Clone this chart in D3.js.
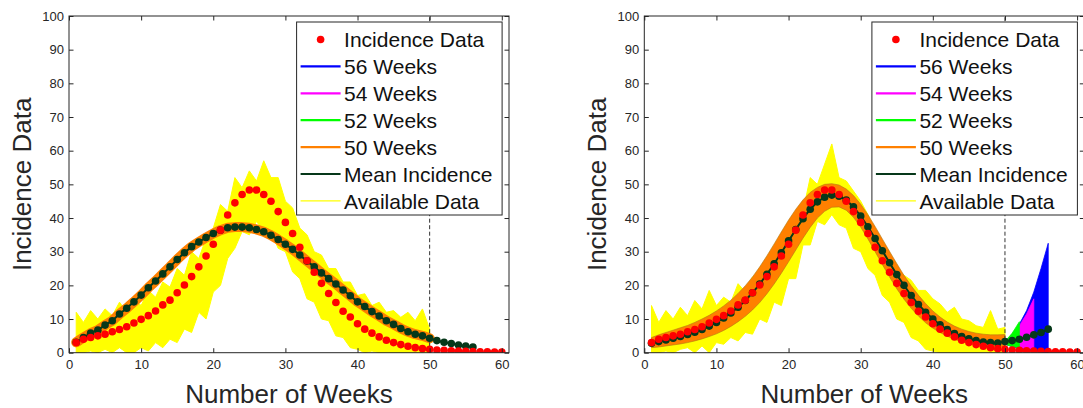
<!DOCTYPE html>
<html>
<head>
<meta charset="utf-8">
<script src="https://cdn.jsdelivr.net/npm/d3@7"></script>
<style>
  body { margin: 0; background: #fff; }
  svg { display: block; font-family: "Liberation Sans", Arial, Helvetica, sans-serif; }
</style>
</head>
<body>
<svg id="chart" width="1083" height="408"></svg>
<script>
// weekly incidence (red dots), weeks 1..60
const weeks = d3.range(1, 61);
const incidence = [3.0, 4.0, 4.5, 5.0, 5.5, 6.2, 6.9, 7.7, 8.8, 9.9, 11.0, 12.4, 14.2, 15.6, 17.8, 20.1, 22.6, 25.5, 28.7, 32.2,
  36.4, 40.9, 44.5, 47.0, 48.3, 48.3, 47.0, 45.0, 41.9, 38.7, 35.4, 31.3, 27.3, 23.9, 20.6, 17.6, 14.9, 12.3, 10.6, 8.6,
  7.0, 5.8, 4.7, 3.7, 3.0, 2.4, 1.9, 1.5, 1.2, 1.0, 0.8, 0.7, 0.6, 0.5, 0.4, 0.35, 0.3, 0.25, 0.2, 0.2];

// mean incidence, weeks 1..56
const meanLeft = [3.1, 4.5, 5.8, 6.7, 8.2, 9.5, 11.5, 13.2, 15.1, 17.1, 19.3, 21.3, 23.4, 25.5, 27.7, 29.7, 31.5, 32.9, 34.2, 35.4,
  36.4, 37.1, 37.3, 37.3, 37.1, 36.6, 35.9, 34.9, 33.6, 32.2, 30.7, 29.0, 27.2, 25.5, 23.7, 22.0, 20.4, 18.6, 16.9, 15.1,
  13.7, 12.2, 10.9, 9.5, 8.4, 7.2, 6.2, 5.5, 5.0, 4.3, 3.6, 3.1, 2.7, 2.3, 2.0, 1.7];
const meanRight = [2.8, 3.3, 3.8, 4.3, 4.8, 5.4, 6.1, 6.9, 7.9, 9.0, 10.3, 11.8, 13.5, 15.5, 17.8, 20.4, 23.3, 26.4, 29.7, 33.2,
  36.6, 39.8, 42.6, 44.8, 46.2, 46.8, 46.5, 45.3, 43.3, 40.6, 37.4, 33.9, 30.3, 26.7, 23.2, 20.0, 17.0, 14.3, 12.0, 10.0,
  8.3, 6.9, 5.7, 4.8, 4.1, 3.6, 3.2, 3.0, 2.9, 3.3, 3.6, 4.0, 4.6, 5.3, 6.0, 7.0];

// envelope of the available data realisations, weeks 1..50
const availHiLeft = [12, 9, 12.5, 10, 13, 11, 15, 12, 16, 14, 18.5, 16.5, 21, 19.5, 25, 23, 30, 28, 34, 37,
  44, 42, 52, 49, 54, 51, 57, 52, 52, 45, 43, 37, 35, 30, 29, 25, 25, 21, 21, 17,
  17.5, 14, 15, 12, 12.5, 10.5, 12, 9.5, 13, 7];
const availLoLeft = [0, 0, 0.5, 0, 1, 0, 1.5, 0, 0, 1.5, 0.5, 3, 1.5, 4, 3, 7, 6, 12, 10, 18,
  20, 28, 31, 36, 35, 39, 36, 36, 31, 30, 24, 22, 16, 15, 10, 9.5, 5, 4.5, 1.5, 1,
  0, 0.5, 0, 0, 0, 0, 0, 0, 0, 0];
const availHiRight = [14, 9, 12.5, 10, 13.5, 11, 15.5, 13, 18.5, 14, 16.5, 15, 20.5, 18, 22.5, 21, 27.5, 26, 33.5, 33,
  41.5, 42, 52, 50, 56, 62, 52, 51, 48, 45, 41, 36.5, 31, 28, 24.5, 23, 21.5, 18.5, 18.5, 16,
  14.5, 12, 13.5, 10, 9.5, 8, 7.5, 12.5, 7, 7.5];
const availLoRight = [0, 0, 0.5, 0, 1, 1.5, 0, 2, 0, 3, 2.5, 4.5, 3.5, 6, 5.5, 10, 9, 15, 14, 22,
  22, 32, 32, 39, 38, 41, 38, 37, 31, 30, 25, 23, 17, 15, 10, 9, 4.5, 3.5, 1, 0.5,
  0, 0, 0, 0, 0, 0, 0, 0, 0, 0];

// 50-week fit band (right panel), weeks 1..50
const bandLoRight = [1.5, 1.7, 2.0, 2.3, 2.6, 3.0, 3.5, 4.1, 4.8, 5.6, 6.6, 7.8, 9.2, 10.8, 12.7, 14.9, 17.5, 20.4, 23.6, 27.0,
  30.5, 34.0, 37.2, 40.0, 42.0, 43.2, 43.3, 42.3, 40.2, 37.3, 33.8, 30.0, 26.2, 22.5, 19.0, 15.9, 13.2, 10.9, 8.9, 7.3,
  6.0, 4.9, 4.0, 3.3, 2.8, 2.4, 2.1, 1.9, 1.8, 1.8];
const bandHiRight = [4.5, 5.3, 6.0, 6.7, 7.4, 8.1, 9.0, 10.0, 11.1, 12.4, 13.9, 15.6, 17.6, 19.9, 22.5, 25.5, 28.8, 32.3, 35.9, 39.4,
  42.6, 45.4, 47.6, 49.1, 50.0, 50.2, 49.8, 48.6, 46.7, 44.1, 41.0, 37.5, 33.8, 30.1, 26.5, 23.0, 19.9, 17.1, 14.6, 12.4,
  10.6, 9.1, 7.9, 7.0, 6.3, 5.8, 5.5, 5.3, 5.3, 5.4];

// forecast fans after the cut-off (right panel)
const fan56Weeks = [50, 51, 52, 53, 54, 55, 56];
const fan56Hi = [3.3, 5.5, 8.5, 12.5, 18, 25, 32.5];
const fan56Lo = [2.5, 1.8, 1.2, 0.8, 0.4, 0.2, 0];
const fan54Weeks = [50, 51, 52, 53, 54];
const fan54Hi = [3.3, 5.4, 8.0, 11.5, 16];
const fan54Lo = [2.5, 2.0, 1.5, 1.2, 1.0];
const fan52Weeks = [50, 51, 52];
const fan52Hi = [3.3, 5.8, 9.2];
const fan52Lo = [2.5, 1.8, 1.5];

const cutoffWeek = 50;
const xTicks = [0, 10, 20, 30, 40, 50, 60];
const yTicks = [0, 10, 20, 30, 40, 50, 60, 70, 80, 90, 100];
const legendLabels = ["Incidence Data", "56 Weeks", "54 Weeks", "52 Weeks", "50 Weeks", "Mean Incidence", "Available Data"];
const legendColors = ["#ff0000", "#0000ff", "#ff00ff", "#00ff00", "#ff8000", "#06381a", "#ffff00"];

const svg = d3.select("#chart");
const axisColor = "#262626";
const plotW = 440, plotTop = 16, plotBottom = 352.7;

const drawPanel = (left, opts) => {
  const g = svg.append("g").attr("transform", `translate(${left},0)`);
  const x = d3.scaleLinear().domain([0, 61]).range([0, plotW]);
  const y = d3.scaleLinear().domain([0, 100]).range([plotBottom, plotTop]);

  const clipId = "clip" + Math.round(left);
  g.append("clipPath").attr("id", clipId)
    .append("rect").attr("x", 0).attr("y", plotTop).attr("width", plotW).attr("height", plotBottom - plotTop);
  const plot = g.append("g").attr("clip-path", `url(#${clipId})`);

  const band = (xs, lo, hi) => d3.area()
    .x((d, i) => x(xs[i])).y0((d, i) => y(lo[i])).y1((d, i) => y(hi[i]))(lo);

  // available data
  plot.append("path")
    .attr("d", band(weeks, opts.availLo, opts.availHi))
    .attr("fill", "#ffff00").attr("stroke", "#ffff00").attr("stroke-width", 1);

  // 50 weeks fit
  if (opts.bandLo) {
    plot.append("path")
      .attr("d", band(weeks, opts.bandLo, opts.bandHi))
      .attr("fill", "#ff8000").attr("stroke", "#b07a10").attr("stroke-width", 0.6);
  } else {
    plot.append("path")
      .datum(opts.mean.slice(0, cutoffWeek))
      .attr("d", d3.line().x((d, i) => x(weeks[i])).y((d) => y(d)))
      .attr("fill", "none").attr("stroke", "#ff8000").attr("stroke-width", 10)
      .attr("stroke-linejoin", "round").attr("stroke-linecap", "round");
  }

  if (opts.fans) {
    opts.fans.forEach((f) => {
      plot.append("path")
        .attr("d", band(f.weeks, f.lo, f.hi))
        .attr("fill", f.color).attr("stroke", f.color).attr("stroke-width", 0.8);
    });
  }

  // cut-off marker
  plot.append("line")
    .attr("x1", x(cutoffWeek)).attr("x2", x(cutoffWeek))
    .attr("y1", y(0)).attr("y2", y(100))
    .attr("stroke", "#333").attr("stroke-width", 1).attr("stroke-dasharray", "4,2.5");

  // mean incidence
  plot.append("path")
    .datum(opts.mean)
    .attr("d", d3.line().x((d, i) => x(weeks[i])).y((d) => y(d)))
    .attr("fill", "none").attr("stroke", "#06381a").attr("stroke-width", 2);
  plot.selectAll(".mean")
    .data(opts.mean)
    .enter()
    .append("circle")
    .attr("cx", (d, i) => x(weeks[i]))
    .attr("cy", (d) => y(d))
    .attr("r", 3.8)
    .attr("fill", "#06381a");

  // incidence data
  plot.selectAll(".inc")
    .data(incidence)
    .enter()
    .append("circle")
    .attr("cx", (d, i) => x(weeks[i]))
    .attr("cy", (d) => y(d))
    .attr("r", 3.8)
    .attr("fill", "#ff0000");

  // axes
  const styleAxis = (sel) => {
    sel.select(".domain").remove();
    sel.selectAll("line").attr("stroke", axisColor);
    sel.selectAll("text").attr("fill", axisColor).style("font-size", "13px")
      .style("font-family", "Liberation Sans, Arial, sans-serif");
  };
  g.append("g").attr("transform", `translate(0,${plotBottom})`)
    .call(d3.axisBottom(x).tickValues(xTicks).tickSize(-4.5).tickPadding(7)).call(styleAxis);
  g.append("g").attr("transform", `translate(0,${plotTop})`)
    .call(d3.axisTop(x).tickValues(xTicks).tickSize(-4.5).tickFormat("")).call(styleAxis);
  g.append("g")
    .call(d3.axisLeft(y).tickValues(yTicks).tickSize(-4.5).tickPadding(5)).call(styleAxis);
  g.append("g").attr("transform", `translate(${plotW},0)`)
    .call(d3.axisRight(y).tickValues(yTicks).tickSize(-4.5).tickFormat("")).call(styleAxis);
  g.append("rect")
    .attr("x", 0).attr("y", plotTop).attr("width", plotW).attr("height", plotBottom - plotTop)
    .attr("fill", "none").attr("stroke", axisColor).attr("stroke-width", 1);

  // axis titles
  g.append("text")
    .attr("transform", `translate(-38,${(plotTop + plotBottom) / 2}) rotate(-90)`)
    .attr("text-anchor", "middle").attr("fill", axisColor).style("font-size", "26px")
    .text("Incidence Data");
  g.append("text")
    .attr("x", plotW / 2).attr("y", 403)
    .attr("text-anchor", "middle").attr("fill", axisColor).style("font-size", "26px")
    .text("Number of Weeks");

  // legend
  const lg = g.append("g").attr("transform", "translate(227.6,22)");
  lg.append("rect").attr("width", 205.5).attr("height", 193)
    .attr("fill", "#fff").attr("stroke", axisColor).attr("stroke-width", 1);
  legendLabels.forEach((label, i) => {
    const cy = 17.5 + i * 26.9;
    if (i === 0) {
      lg.append("circle").attr("cx", 24).attr("cy", cy).attr("r", 3.8).attr("fill", legendColors[i]);
    } else {
      lg.append("line").attr("x1", 4).attr("x2", 44).attr("y1", cy).attr("y2", cy)
        .attr("stroke", legendColors[i]).attr("stroke-width", i === 6 ? 1.2 : 2.2);
    }
    lg.append("text").attr("x", 47.5).attr("y", cy + 7.6)
      .attr("fill", "#111").style("font-size", "21px").text(label);
  });
};

drawPanel(69, {
  mean: meanLeft,
  availLo: availLoLeft,
  availHi: availHiLeft
});

drawPanel(644.3, {
  mean: meanRight,
  availLo: availLoRight,
  availHi: availHiRight,
  bandLo: bandLoRight,
  bandHi: bandHiRight,
  fans: [
    { weeks: fan56Weeks, lo: fan56Lo, hi: fan56Hi, color: "#0000ff" },
    { weeks: fan54Weeks, lo: fan54Lo, hi: fan54Hi, color: "#ff00ff" },
    { weeks: fan52Weeks, lo: fan52Lo, hi: fan52Hi, color: "#00ff00" }
  ]
});
</script>
</body>
</html>
